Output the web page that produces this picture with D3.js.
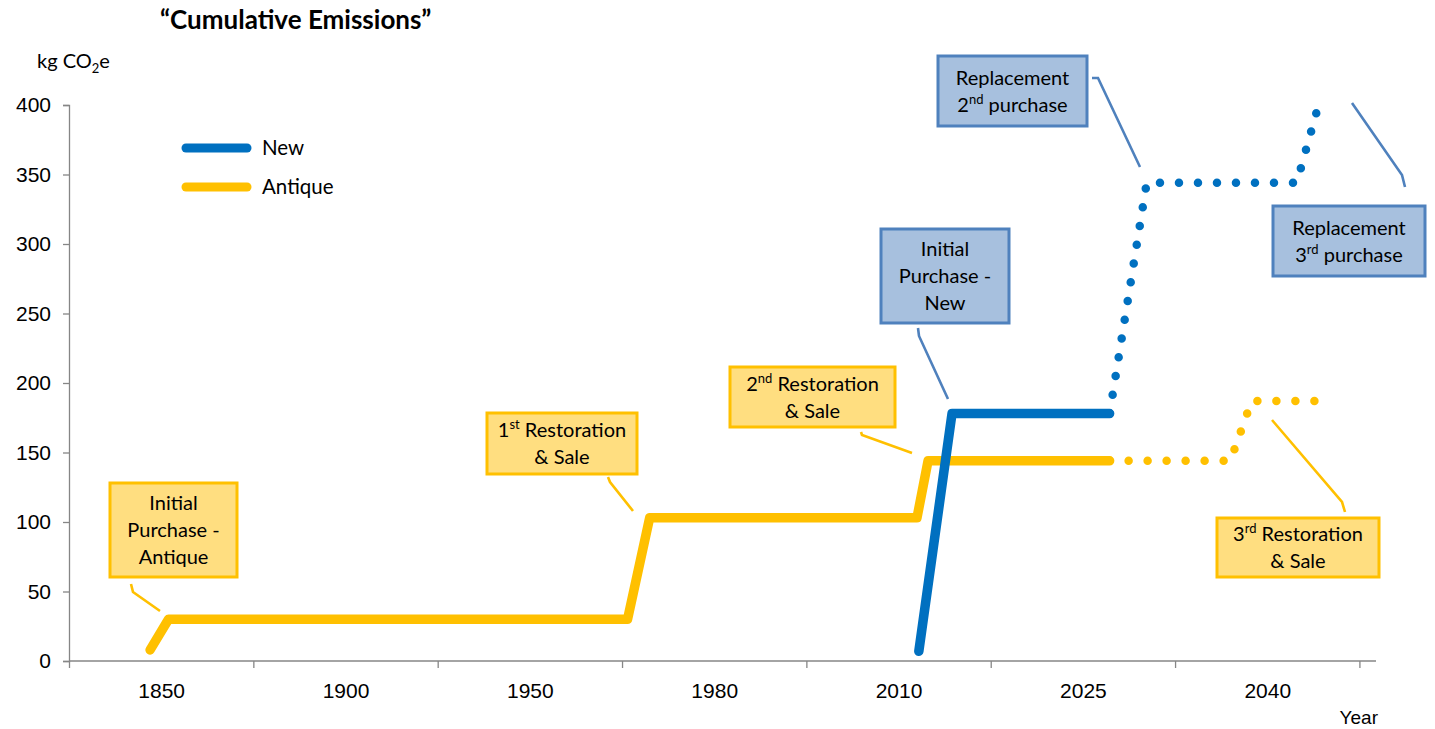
<!DOCTYPE html>
<html>
<head>
<meta charset="utf-8">
<script src="https://cdn.jsdelivr.net/npm/d3@7"></script>
<style>
  body { margin: 0; background: #fff; }
  svg { display: block; }
  .tick text { font-family: "Liberation Sans Narrow", "Arial Narrow", sans-serif; }
</style>
</head>
<body>
<svg id="chart" width="1435" height="729"></svg>
<script>
// Category axis: each period occupies one unit band, label at the band centre
const periods = ["1850", "1900", "1950", "1980", "2010", "2025", "2040"];
const yTicks = [0, 50, 100, 150, 200, 250, 300, 350, 400];

// Cumulative emissions (kg CO2e) against position on the period axis
const antiquePos    = [0.44, 0.54, 3.03, 3.15, 4.60, 4.66, 5.645];
const antiqueVals   = [8, 30, 30, 103, 103, 144, 144];
const antiqueProjPos  = [5.645, 6.30, 6.415, 6.83];
const antiqueProjVals = [144, 144, 187, 187];

const newPos     = [4.61, 4.79, 5.645];
const newVals    = [7, 178, 178];
const newProjPos  = [5.645, 5.846, 6.66, 6.77];
const newProjVals = [178, 344, 344, 396];

const seriesNames = ["New", "Antique"];
const colors = { New: "#0070C0", Antique: "#FFC000" };

// Callout boxes: text lines, box frame and leader path (page pixels)
const callouts = [
  { kind: "Antique", lines: [["Initial"], ["Purchase -"], ["Antique"]],
    box: [110, 483, 127, 94], leader: [[131, 584], [133, 592], [160, 611]] },
  { kind: "Antique", lines: [["1", "st", " Restoration"], ["& Sale"]],
    box: [487, 413, 150, 61], leader: [[608, 477], [610, 482], [633, 511]] },
  { kind: "Antique", lines: [["2", "nd", " Restoration"], ["& Sale"]],
    box: [730, 367, 165, 60], leader: [[861, 432], [862, 435], [912, 453]] },
  { kind: "New", lines: [["Initial"], ["Purchase -"], ["New"]],
    box: [881, 229, 128, 94], leader: [[918, 328], [919, 336], [948, 399]] },
  { kind: "New", lines: [["Replacement"], ["2", "nd", " purchase"]],
    box: [938, 56, 149, 70], leader: [[1092, 78], [1098, 78], [1140, 167]] },
  { kind: "New", lines: [["Replacement"], ["3", "rd", " purchase"]],
    box: [1273, 206, 152, 70], leader: [[1352, 103], [1402, 175], [1405, 187]] },
  { kind: "Antique", lines: [["3", "rd", " Restoration"], ["& Sale"]],
    box: [1217, 518, 162, 59], leader: [[1272, 420], [1342, 502], [1345, 512]] }
];
const calloutStyle = {
  Antique: { fill: "#FFDE80", stroke: "#FFC000", leader: "#FFC000" },
  New:     { fill: "#A7C0DE", stroke: "#4F81BD", leader: "#4F81BD" }
};

const svg = d3.select("#chart");
const x = d3.scaleLinear().domain([0, 7.09]).range([69, 1376]);
const y = d3.scaleLinear().domain([0, 400]).range([661, 105]);
const axisColor = "#868686";

// Y axis
const yAxis = svg.append("g")
  .attr("transform", `translate(${x(0)},0)`)
  .call(d3.axisLeft(y).tickValues(yTicks).tickSize(6).tickPadding(12));
yAxis.select(".domain").attr("stroke", axisColor).attr("stroke-width", 1.3);
yAxis.selectAll(".tick line").attr("stroke", axisColor).attr("stroke-width", 1.3);
yAxis.selectAll(".tick text").attr("font-size", 21).attr("fill", "#000");

// X axis: tick marks on band boundaries, labels at band centres
const xAxis = svg.append("g")
  .attr("transform", `translate(0,${y(0)})`)
  .call(d3.axisBottom(x).tickValues(d3.range(0, periods.length + 1)).tickSize(7).tickFormat(""));
xAxis.select(".domain").attr("stroke", axisColor).attr("stroke-width", 1.3)
  .attr("d", `M${x(0)},0H${x(7.09)}`);
xAxis.selectAll(".tick line").attr("stroke", axisColor).attr("stroke-width", 1.3);

const xLabels = svg.append("g")
  .attr("transform", `translate(0,${y(0)})`)
  .call(d3.axisBottom(x).tickValues(periods.map((p, i) => i + 0.5))
    .tickFormat((d, i) => periods[i]).tickSize(0).tickPadding(22));
xLabels.select(".domain").remove();
xLabels.selectAll(".tick text").attr("font-size", 21).attr("fill", "#000");

// Axis titles and chart title
const calibri = "Lato, 'Open Sans', sans-serif";
svg.append("text").attr("x", 160).attr("y", 29)
  .attr("font-family", calibri).attr("font-weight", "bold").attr("font-size", 26)
  .text("\u201CCumulative Emissions\u201D");

const unit = svg.append("text").attr("x", 37).attr("y", 68)
  .attr("font-family", calibri).attr("font-size", 20);
unit.append("tspan").text("kg CO");
unit.append("tspan").attr("font-size", 13).attr("dy", 5).text("2");
unit.append("tspan").attr("dy", -5).text("e");

svg.append("text").attr("x", 1378).attr("y", 724).attr("text-anchor", "end")
  .attr("font-family", "'Liberation Sans Narrow', 'Arial Narrow', sans-serif").attr("font-size", 19)
  .text("Year");

// Lines
const line = d3.line().x(d => x(d[0])).y(d => y(d[1]));
const zip = (a, b) => a.map((v, i) => [v, b[i]]);

function drawSeries(pos, vals, color, dotted) {
  svg.append("path")
    .datum(zip(pos, vals))
    .attr("d", line)
    .attr("fill", "none")
    .attr("stroke", color)
    .attr("stroke-width", dotted ? 8.5 : 9.5)
    .attr("stroke-linecap", "round")
    .attr("stroke-linejoin", "round")
    .attr("stroke-dasharray", dotted ? "0 19" : null);
}
drawSeries(antiquePos, antiqueVals, colors.Antique, false);
drawSeries(antiqueProjPos, antiqueProjVals, colors.Antique, true);
drawSeries(newPos, newVals, colors.New, false);
drawSeries(newProjPos, newProjVals, colors.New, true);

// Legend
const legend = svg.append("g");
seriesNames.forEach((name, i) => {
  const ly = 148 + i * 39;
  legend.append("line").attr("x1", 186).attr("x2", 247).attr("y1", ly).attr("y2", ly)
    .attr("stroke", colors[name]).attr("stroke-width", 9).attr("stroke-linecap", "round");
  legend.append("text").attr("x", 262).attr("y", ly + 7)
    .attr("font-family", calibri).attr("font-size", 20.5).text(name);
});

// Callouts
callouts.forEach(c => {
  const st = calloutStyle[c.kind];
  const g = svg.append("g");
  g.append("path")
    .attr("d", d3.line()(c.leader))
    .attr("fill", "none").attr("stroke", st.leader).attr("stroke-width", 2.6);
  const [bx, by, bw, bh] = c.box;
  g.append("rect").attr("x", bx).attr("y", by).attr("width", bw).attr("height", bh)
    .attr("fill", st.fill).attr("stroke", st.stroke).attr("stroke-width", 3);
  const lh = 27;
  const top = by + bh / 2 - (c.lines.length * lh) / 2 + lh / 2 + 7;
  c.lines.forEach((parts, i) => {
    const t = g.append("text").attr("x", bx + bw / 2).attr("y", top + i * lh)
      .attr("text-anchor", "middle").attr("font-family", calibri).attr("font-size", 20);
    if (parts.length === 1) {
      t.text(parts[0]);
    } else {
      t.append("tspan").text(parts[0]);
      t.append("tspan").attr("font-size", 13).attr("dy", -8).text(parts[1]);
      t.append("tspan").attr("dy", 8).text(parts[2]);
    }
  });
});
</script>
</body>
</html>
